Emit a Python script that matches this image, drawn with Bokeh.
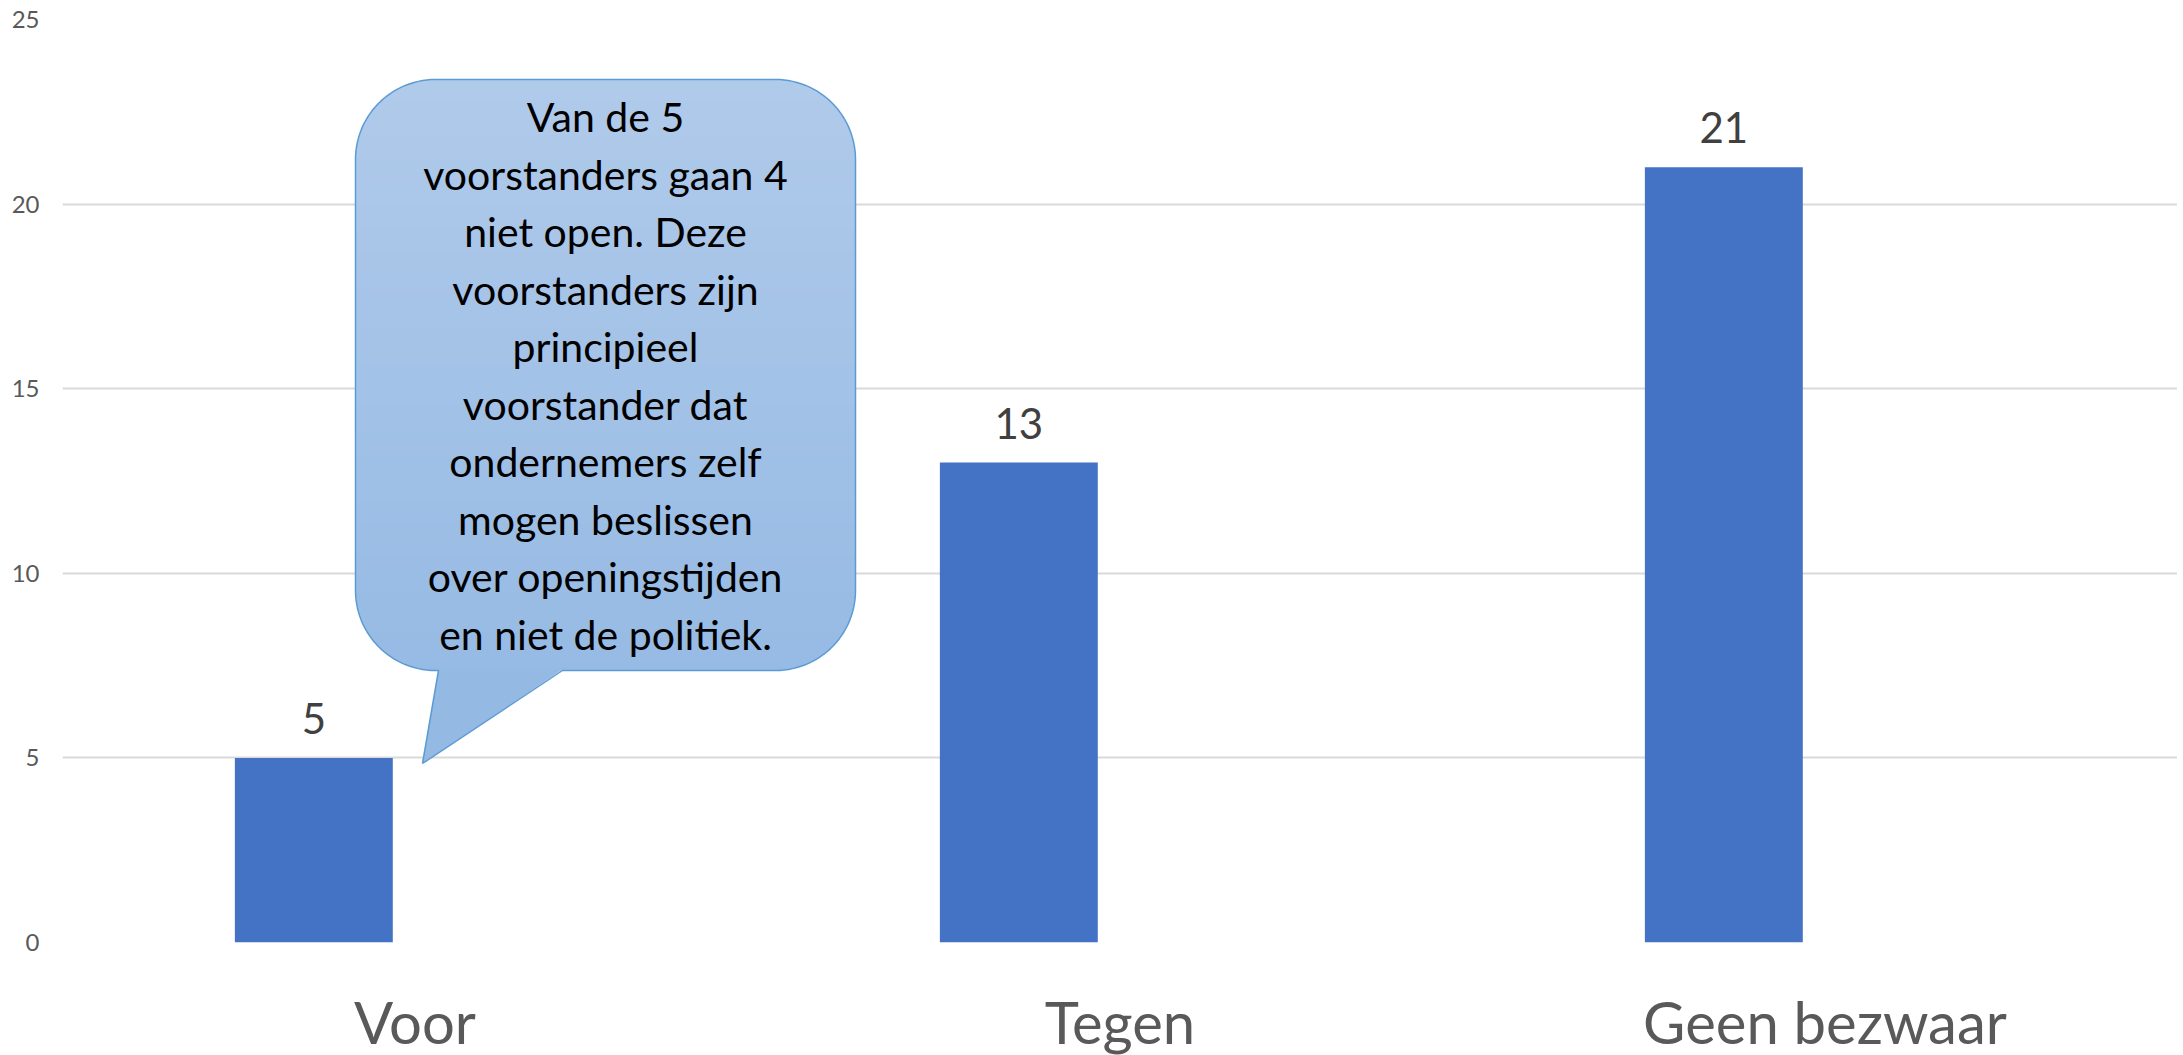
import numpy as np
from bokeh.plotting import figure
from bokeh.models import ColumnDataSource, FactorRange, Range1d, FixedTicker, LabelSet
from bokeh.transform import dodge
from bokeh.core.properties import value
from bokeh.embed import file_html
from bokeh.resources import INLINE

# ---- data ----
categories = ["Voor", "Tegen", "Geen bezwaar"]
counts = [5, 13, 21]
y_ticks = [0, 5, 10, 15, 20, 25]
callout_lines = [
    "Van de 5",
    "voorstanders gaan 4",
    "niet open. Deze",
    "voorstanders zijn",
    "principieel",
    "voorstander dat",
    "ondernemers zelf",
    "mogen beslissen",
    "over openingstijden",
    "en niet de politiek.",
]

# ---- layout constants (page pixels) ----
FRAME_W, FRAME_H = 2115, 923
FRAME_LEFT, FRAME_BOTTOM = 62, 942
Y_MAX = 25
N_CAT = len(categories)


def px2x(px):
    return (np.asarray(px, dtype=float) - FRAME_LEFT) / FRAME_W * N_CAT


def px2y(py):
    return (FRAME_BOTTOM - np.asarray(py, dtype=float)) / FRAME_H * Y_MAX


FONT = "Lato"
BAR_COLOR = "#4472C4"
BAR_OFFSET = -0.1435
BAR_WIDTH = 0.224

p = figure(
    x_range=FactorRange(factors=categories, range_padding=0),
    y_range=Range1d(0, Y_MAX),
    frame_width=FRAME_W,
    frame_height=FRAME_H,
    output_backend="svg",
    toolbar_location=None,
    min_border_left=62,
    min_border_top=19,
    min_border_right=0,
    min_border_bottom=0,
    background_fill_color="white",
    border_fill_color="white",
)
p.outline_line_color = None

src = ColumnDataSource(dict(cat=categories, count=counts, label=[str(c) for c in counts]))
xdodge = dodge("cat", BAR_OFFSET, range=p.x_range)
p.vbar(x=xdodge, top="count", width=BAR_WIDTH, source=src,
       fill_color=BAR_COLOR, line_color=None)

labels = LabelSet(x=xdodge, y="count", text="label", source=src,
                  y_offset=24, text_align="center", text_baseline="alphabetic",
                  text_font=value(FONT), text_font_size="42px", text_color="#404040")
p.add_layout(labels)

# axes
p.yaxis.ticker = FixedTicker(ticks=y_ticks)
p.ygrid.ticker = FixedTicker(ticks=y_ticks)
p.yaxis.axis_line_color = None
p.yaxis.major_tick_line_color = None
p.yaxis.minor_tick_line_color = None
p.yaxis.major_tick_out = 0
p.yaxis.major_tick_in = 0
p.yaxis.major_label_standoff = 23
p.yaxis.major_label_text_font = FONT
p.yaxis.major_label_text_font_size = "24px"
p.yaxis.major_label_text_color = "#595959"

p.xaxis.axis_line_color = None
p.xaxis.major_tick_line_color = None
p.xaxis.minor_tick_line_color = None
p.xaxis.major_tick_out = 0
p.xaxis.major_tick_in = 0
p.xaxis.major_label_standoff = 44
p.xaxis.major_label_text_font = FONT
p.xaxis.major_label_text_font_size = "58px"
p.xaxis.major_label_text_color = "#595959"

p.xgrid.grid_line_color = None
p.ygrid.grid_line_color = "#d9d9d9"
p.ygrid.grid_line_width = 2

# ---- callout (speech bubble) ----
L, R, T, B, RAD = 355, 855, 79, 670, 80
TAIL_L, TAIL_R, TIP_X, TIP_Y = 438, 562, 422, 763
top_rgb = np.array([176, 202, 234])
bot_rgb = np.array([146, 184, 227])


def grad_color(py):
    t = (py - T) / (TIP_Y - T)
    c = top_rgb + t * (bot_rgb - top_rgb)
    return "#%02x%02x%02x" % tuple(int(round(v)) for v in c)


def inset(py):
    if py < T + RAD:
        dy = T + RAD - py
    elif py > B - RAD:
        dy = py - (B - RAD)
    else:
        return 0.0
    dy = min(dy, RAD)
    return RAD - np.sqrt(max(RAD * RAD - dy * dy, 0.0))


xs_list, ys_list, colors = [], [], []
step = 4
y0 = T
while y0 < B:
    y1 = min(y0 + step + 1, B)
    ys = np.linspace(y0, y1, 8)
    lx = [L + inset(v) for v in ys]
    rx = [R - inset(v) for v in ys]
    pxs = lx + rx[::-1]
    pys = list(ys) + list(ys[::-1])
    xs_list.append(list(px2x(pxs)))
    ys_list.append(list(px2y(pys)))
    colors.append(grad_color(y0 + step / 2))
    y0 += step

# tail
xs_list.append(list(px2x([TAIL_L, TAIL_R, TIP_X])))
ys_list.append(list(px2y([B - 1, B - 1, TIP_Y])))
colors.append(grad_color((B + TIP_Y) / 2))

p.patches(xs=xs_list, ys=ys_list, fill_color=colors, line_color=None)

# outline
ox, oy = [TAIL_R, R - RAD], [B, B]


def arc(cx, cy, a0, a1, n=30):
    a = np.radians(np.linspace(a0, a1, n))
    return list(cx + RAD * np.cos(a)), list(cy + RAD * np.sin(a))


for (cx, cy, a0, a1) in [(R - RAD, B - RAD, 90, 0), (R - RAD, T + RAD, 0, -90),
                          (L + RAD, T + RAD, -90, -180), (L + RAD, B - RAD, 180, 90)]:
    ax, ay = arc(cx, cy, a0, a1)
    ox += ax
    oy += ay
ox += [TAIL_L, TIP_X, TAIL_R]
oy += [B, TIP_Y, B]
p.line(x=list(px2x(ox)), y=list(px2y(oy)), line_color="#5b9bd5", line_width=1.5)

# callout text
cx_text = (L + R) / 2
baselines = [116 + 57.5 * i for i in range(len(callout_lines))]
tsrc = ColumnDataSource(dict(x=list(px2x([cx_text] * len(callout_lines))),
                             y=list(px2y(baselines)), text=callout_lines))
p.text(x="x", y="y", text="text", source=tsrc, text_align="center",
       text_baseline="alphabetic", text_font=value(FONT), text_font_size="41px",
       text_color="#000000")

open("out.html", "w").write(file_html(p, INLINE))
